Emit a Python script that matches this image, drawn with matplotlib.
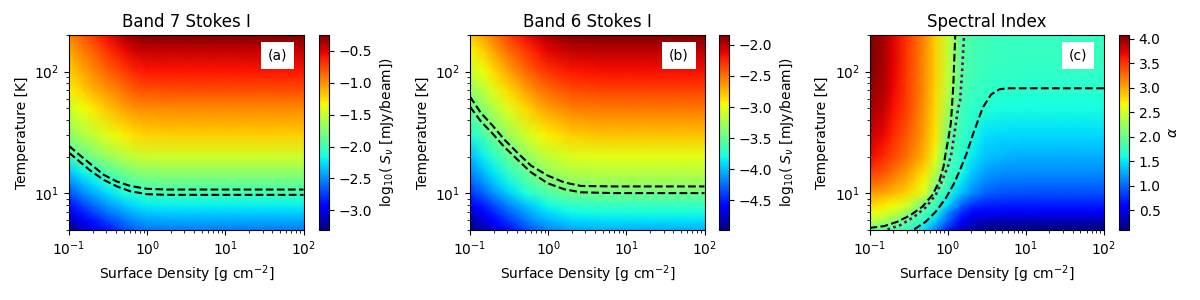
import matplotlib
matplotlib.use('AGG')
import matplotlib.pyplot as plt
import numpy as np

temps = [5, 6, 7, 8, 10, 12, 15, 20, 30, 50, 70, 100, 150, 200]
sigma = [0.1, 0.15, 0.2, 0.3, 0.5, 0.7, 1, 2, 5, 10, 30, 100]
sigma_c = [0.1, 0.15, 0.2, 0.3, 0.5, 0.7, 1, 1.5, 2, 3, 5, 10, 100]

band7 = [
    [-3.31, -3.15, -3.03, -2.88, -2.72, -2.63, -2.58, -2.55, -2.55, -2.55, -2.55, -2.55],
    [-3.15, -2.98, -2.87, -2.73, -2.58, -2.49, -2.44, -2.42, -2.42, -2.42, -2.42, -2.42],
    [-3.00, -2.84, -2.73, -2.59, -2.45, -2.37, -2.32, -2.30, -2.30, -2.30, -2.30, -2.30],
    [-2.88, -2.72, -2.61, -2.48, -2.34, -2.27, -2.22, -2.20, -2.20, -2.20, -2.20, -2.20],
    [-2.68, -2.52, -2.42, -2.29, -2.15, -2.08, -2.03, -2.00, -2.00, -2.00, -2.00, -2.00],
    [-2.53, -2.37, -2.27, -2.14, -2.00, -1.93, -1.89, -1.87, -1.87, -1.87, -1.87, -1.87],
    [-2.33, -2.18, -2.08, -1.95, -1.82, -1.75, -1.72, -1.70, -1.70, -1.70, -1.70, -1.70],
    [-2.00, -1.88, -1.80, -1.68, -1.57, -1.52, -1.49, -1.47, -1.47, -1.47, -1.47, -1.47],
    [-1.72, -1.60, -1.52, -1.42, -1.31, -1.25, -1.21, -1.20, -1.20, -1.20, -1.20, -1.20],
    [-1.47, -1.35, -1.28, -1.18, -1.06, -1.00, -0.98, -0.97, -0.97, -0.97, -0.97, -0.97],
    [-1.32, -1.20, -1.12, -1.02, -0.90, -0.82, -0.79, -0.78, -0.78, -0.78, -0.78, -0.78],
    [-1.20, -1.07, -0.98, -0.87, -0.74, -0.65, -0.60, -0.60, -0.60, -0.60, -0.60, -0.60],
    [-1.08, -0.93, -0.85, -0.70, -0.56, -0.47, -0.43, -0.43, -0.43, -0.43, -0.43, -0.43],
    [-0.95, -0.82, -0.72, -0.57, -0.38, -0.29, -0.25, -0.25, -0.25, -0.25, -0.25, -0.25],
]

band6 = [
    [-4.98, -4.85, -4.74, -4.57, -4.38, -4.27, -4.18, -4.08, -4.05, -4.05, -4.05, -4.05],
    [-4.87, -4.72, -4.59, -4.42, -4.23, -4.12, -4.03, -3.93, -3.90, -3.90, -3.90, -3.90],
    [-4.76, -4.60, -4.47, -4.30, -4.11, -4.00, -3.91, -3.81, -3.78, -3.78, -3.78, -3.78],
    [-4.65, -4.49, -4.36, -4.19, -4.00, -3.89, -3.80, -3.70, -3.67, -3.67, -3.67, -3.67],
    [-4.45, -4.27, -4.14, -3.97, -3.78, -3.67, -3.58, -3.48, -3.45, -3.45, -3.45, -3.45],
    [-4.32, -4.14, -4.01, -3.84, -3.65, -3.54, -3.45, -3.35, -3.32, -3.32, -3.32, -3.32],
    [-4.18, -4.00, -3.87, -3.70, -3.51, -3.40, -3.31, -3.21, -3.18, -3.18, -3.18, -3.18],
    [-4.02, -3.84, -3.71, -3.54, -3.35, -3.24, -3.15, -3.05, -3.02, -3.02, -3.02, -3.02],
    [-3.78, -3.60, -3.47, -3.30, -3.11, -3.00, -2.91, -2.81, -2.78, -2.78, -2.78, -2.78],
    [-3.52, -3.34, -3.21, -3.04, -2.85, -2.74, -2.65, -2.55, -2.52, -2.52, -2.52, -2.52],
    [-3.33, -3.17, -3.04, -2.87, -2.68, -2.57, -2.48, -2.38, -2.35, -2.35, -2.35, -2.35],
    [-3.12, -2.97, -2.85, -2.68, -2.50, -2.39, -2.30, -2.20, -2.18, -2.18, -2.18, -2.18],
    [-2.95, -2.80, -2.67, -2.50, -2.32, -2.21, -2.12, -2.02, -2.00, -2.00, -2.00, -2.00],
    [-2.80, -2.65, -2.52, -2.35, -2.16, -2.05, -1.96, -1.86, -1.84, -1.84, -1.84, -1.84],
]

alpha = [
    [2.02, 1.95, 1.85, 1.76, 1.45, 1.10, 0.70, 0.35, 0.22, 0.12, 0.10, 0.10, 0.10],
    [2.42, 2.32, 2.20, 1.97, 1.68, 1.40, 1.00, 0.60, 0.42, 0.33, 0.30, 0.30, 0.30],
    [2.65, 2.58, 2.45, 2.25, 1.85, 1.65, 1.15, 0.78, 0.62, 0.55, 0.52, 0.52, 0.52],
    [2.82, 2.75, 2.65, 2.50, 1.98, 1.80, 1.45, 0.98, 0.80, 0.72, 0.70, 0.70, 0.70],
    [3.05, 3.00, 2.93, 2.82, 2.55, 1.95, 1.62, 1.33, 1.15, 0.98, 0.92, 0.90, 0.90],
    [3.27, 3.20, 3.10, 2.95, 2.65, 2.15, 1.80, 1.48, 1.28, 1.10, 1.03, 1.02, 1.02],
    [3.48, 3.38, 3.25, 3.08, 2.78, 2.40, 1.85, 1.62, 1.40, 1.23, 1.17, 1.15, 1.15],
    [3.68, 3.55, 3.42, 3.25, 2.95, 2.60, 1.92, 1.68, 1.52, 1.37, 1.30, 1.28, 1.28],
    [3.82, 3.70, 3.55, 3.35, 3.05, 2.75, 2.05, 1.76, 1.65, 1.48, 1.45, 1.45, 1.45],
    [3.95, 3.85, 3.65, 3.45, 3.10, 2.80, 2.30, 1.80, 1.73, 1.68, 1.62, 1.60, 1.60],
    [4.00, 3.90, 3.70, 3.47, 3.12, 2.82, 2.40, 1.88, 1.78, 1.72, 1.69, 1.68, 1.68],
    [4.05, 3.93, 3.72, 3.48, 3.13, 2.84, 2.42, 1.92, 1.82, 1.76, 1.74, 1.73, 1.73],
    [4.07, 3.95, 3.74, 3.49, 3.14, 2.85, 2.44, 1.94, 1.84, 1.78, 1.76, 1.75, 1.75],
    [4.08, 3.95, 3.75, 3.50, 3.15, 2.85, 2.45, 1.95, 1.85, 1.79, 1.77, 1.76, 1.76],
]

# contour lines
a_line_x = [0.1, 0.14, 0.187, 0.278, 0.411, 0.608, 0.995, 1.79, 100]
a_line1_y = [24.5, 20.4, 17.5, 14.2, 12.5, 11.5, 10.9, 10.75, 10.75]
a_line2_y = [21.6, 18.0, 15.4, 12.9, 11.4, 10.4, 9.85, 9.72, 9.72]
b_line_x = [0.1, 0.137, 0.194, 0.274, 0.406, 0.603, 0.986, 1.61, 2.63, 7, 100]
b_line1_y = [62.4, 46, 36.1, 27.7, 21.5, 16.9, 14, 12.3, 11.5, 11.4, 11.4]
b_line2_y = [51.5, 39.2, 31, 24.1, 18.9, 14.9, 12.1, 10.8, 10.2, 10.05, 10.05]
c_line1_x = [0.1, 0.154, 0.228, 0.337, 0.476, 0.64, 0.78, 0.885, 0.946, 1.02, 1.1, 1.18, 1.25]
c_line1_y = [5.2, 5.38, 5.85, 6.64, 7.78, 9.72, 12.5, 16.6, 21.7, 28, 38, 76, 200]
c_dots_x = [0.17, 0.251, 0.373, 0.525, 0.705, 0.859, 1.024, 1.12, 1.22, 1.36, 1.44, 1.53, 1.62]
c_dots_y = [5.06, 5.5, 6.43, 7.69, 9.72, 12.9, 17.2, 21.5, 31, 50, 57, 100, 200]
c_line2_x = [0.373, 0.525, 0.705, 0.946, 1.21, 1.47, 1.76, 2.1, 2.81, 3.6, 4.6, 5.8, 100]
c_line2_y = [5.06, 5.85, 7.08, 9.12, 12.1, 16.1, 21.5, 30.4, 50.6, 65, 71.6, 73, 73]

panels = [
    dict(x=sigma, z=band7, vmin=-3.31, vmax=-0.25, left=69, cleft=319,
         title='Band 7 Stokes I', tag='(a)',
         ticks=[-3.0, -2.5, -2.0, -1.5, -1.0, -0.5],
         label=r'log$_{10}$( $S_{\nu}$ [mJy/beam])',
         lines=[(a_line_x, a_line1_y), (a_line_x, a_line2_y)]),
    dict(x=sigma, z=band6, vmin=-4.98, vmax=-1.84, left=470, cleft=719,
         title='Band 6 Stokes I', tag='(b)',
         ticks=[-4.5, -4.0, -3.5, -3.0, -2.5, -2.0],
         label=r'log$_{10}$( $S_{\nu}$ [mJy/beam])',
         lines=[(b_line_x, b_line1_y), (b_line_x, b_line2_y)]),
    dict(x=sigma_c, z=alpha, vmin=0.1, vmax=4.08, left=869.5, cleft=1119,
         title='Spectral Index', tag='(c)',
         ticks=[0.5, 1.0, 1.5, 2.0, 2.5, 3.0, 3.5, 4.0],
         label=r'$\alpha$',
         lines=[(c_line1_x, c_line1_y), (c_line2_x, c_line2_y)]),
]

W, H = 1200, 300
fig = plt.figure(figsize=(12, 3), dpi=100)

for p in panels:
    ax = fig.add_axes([p['left'] / W, 70 / H, 234.5 / W, 195 / H])
    cax = fig.add_axes([p['cleft'] / W, 70 / H, 10 / W, 195 / H])
    mesh = ax.pcolormesh(p['x'], temps, np.array(p['z']), shading='gouraud',
                         cmap='jet', vmin=p['vmin'], vmax=p['vmax'])
    for lx, ly in p['lines']:
        ax.plot(lx, ly, color='k', ls='--', lw=1.5)
    if p['tag'] == '(c)':
        ax.plot(c_dots_x, c_dots_y, color='#5a1070', lw=1.9, dashes=(1, 1.3))
    ax.set_xscale('log')
    ax.set_yscale('log')
    ax.set_xlim(0.1, 100)
    ax.set_ylim(5, 200)
    ax.set_xlabel(r'Surface Density [g cm$^{-2}$]')
    ax.set_ylabel('Temperature [K]')
    ax.set_title(p['title'])
    ax.text(0.89, 0.895, p['tag'], transform=ax.transAxes, ha='center', va='center',
            bbox=dict(fc='white', ec='none', pad=5))
    cb = fig.colorbar(mesh, cax=cax, ticks=p['ticks'])
    cb.set_label(p['label'])

plt.savefig('out.png', dpi=100)
